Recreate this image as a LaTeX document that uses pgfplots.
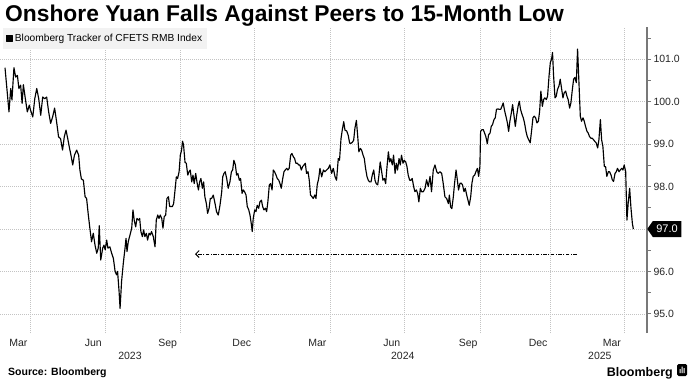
\documentclass[border=0pt]{standalone}
\usepackage{fontspec}
\setmainfont{Liberation Sans}
\usepackage{pgfplots}
\usepackage{pgfplotstable}
\pgfplotsset{compat=1.18}
\usetikzlibrary{shapes.symbols,arrows.meta}
\definecolor{gridc}{RGB}{195,195,195}
\definecolor{axisc}{RGB}{120,120,120}
\definecolor{legbg}{RGB}{242,242,242}

\pgfplotstableread{
m v
-0.04 100.80
0.03 100.35
0.12 99.76
0.19 100.31
0.24 100.04
0.32 100.80
0.39 100.58
0.46 100.62
0.52 100.31
0.59 100.39
0.65 99.96
0.70 100.40
0.78 100.07
0.86 99.76
0.94 99.92
0.99 99.80
1.08 99.64
1.16 100.07
1.24 100.31
1.32 100.07
1.40 99.68
1.48 100.11
1.56 100.07
1.64 100.11
1.72 99.76
1.80 99.49
1.88 99.64
1.96 99.85
2.04 99.53
2.12 99.17
2.20 99.13
2.28 98.86
2.35 99.17
2.42 99.33
2.49 99.13
2.55 98.94
2.62 98.74
2.69 98.51
2.76 98.74
2.85 98.86
2.93 98.74
2.98 98.39
3.04 98.18
3.12 98.15
3.19 97.76
3.25 97.72
3.32 97.33
3.39 96.98
3.45 96.70
3.52 96.90
3.59 96.62
3.66 96.43
3.72 96.55
3.76 97.08
3.82 96.27
3.90 96.55
3.95 96.62
4.00 96.51
4.06 96.74
4.11 96.55
4.19 96.58
4.26 96.43
4.33 96.31
4.40 96.00
4.46 95.92
4.50 96.00
4.56 95.53
4.60 95.13
4.66 95.76
4.73 96.19
4.80 96.55
4.84 96.78
4.88 96.47
4.93 96.70
5.00 96.86
5.07 97.02
5.12 97.45
5.17 97.21
5.23 97.05
5.28 97.25
5.34 97.21
5.39 97.25
5.44 96.94
5.50 96.82
5.55 96.98
5.60 96.82
5.66 96.90
5.71 96.74
5.77 96.90
5.82 96.86
5.87 96.94
5.94 96.82
6.01 96.58
6.06 97.21
6.12 97.33
6.17 97.25
6.22 97.33
6.28 97.25
6.33 97.02
6.38 97.29
6.44 97.33
6.49 97.72
6.55 97.76
6.60 97.53
6.65 97.53
6.71 97.53
6.76 97.60
6.81 97.88
6.87 98.23
6.92 98.19
6.98 98.35
7.03 98.74
7.08 98.86
7.12 99.07
7.16 98.98
7.22 98.57
7.27 98.55
7.33 98.27
7.38 98.35
7.43 98.39
7.49 98.11
7.54 98.27
7.59 98.07
7.65 98.31
7.70 98.11
7.76 97.92
7.81 98.11
7.86 98.19
7.92 97.96
7.97 98.11
8.02 97.76
8.08 97.60
8.13 97.37
8.19 97.49
8.24 97.72
8.29 97.72
8.36 97.80
8.43 97.60
8.49 97.41
8.56 97.33
8.63 97.56
8.70 97.88
8.74 98.23
8.79 98.31
8.84 98.35
8.90 98.19
8.96 97.96
9.03 98.11
9.09 98.35
9.14 98.39
9.19 98.62
9.25 98.51
9.30 98.27
9.35 98.31
9.41 98.15
9.46 98.19
9.52 97.84
9.57 97.92
9.62 97.88
9.68 97.80
9.73 97.53
9.79 97.45
9.84 97.33
9.89 97.13
9.93 96.94
9.97 97.25
10.03 97.45
10.08 97.41
10.13 97.56
10.19 97.49
10.24 97.64
10.30 97.68
10.35 97.53
10.40 97.45
10.46 97.49
10.51 97.41
10.56 97.64
10.62 98.04
10.67 98.07
10.73 97.92
10.78 98.39
10.83 98.35
10.89 98.27
10.94 98.19
11.00 98.15
11.05 98.07
11.10 97.96
11.16 98.19
11.21 98.35
11.26 98.39
11.32 98.43
11.37 98.39
11.42 98.43
11.48 98.74
11.53 98.78
11.59 98.70
11.64 98.66
11.69 98.55
11.75 98.55
11.80 98.51
11.85 98.51
11.91 98.39
11.96 98.47
12.02 98.51
12.07 98.55
12.12 98.31
12.18 98.35
12.23 98.15
12.28 97.80
12.34 97.76
12.39 97.72
12.45 97.80
12.50 97.72
12.55 98.04
12.61 98.19
12.66 98.43
12.73 98.23
12.80 98.39
12.86 98.35
12.93 98.39
13.00 98.43
13.06 98.51
13.13 98.31
13.20 98.43
13.27 98.23
13.33 98.15
13.40 98.66
13.45 98.62
13.51 99.13
13.56 99.33
13.62 99.53
13.67 99.33
13.74 99.31
13.80 99.21
13.86 99.02
13.91 99.02
13.96 99.04
14.02 99.09
14.07 99.37
14.13 99.56
14.18 99.21
14.23 98.82
14.29 98.90
14.34 98.86
14.40 98.74
14.45 98.66
14.50 98.43
14.56 98.23
14.61 98.15
14.66 98.11
14.72 98.11
14.77 98.27
14.83 98.39
14.88 98.15
14.93 98.07
14.99 98.04
15.04 98.27
15.09 98.58
15.15 98.35
15.20 98.15
15.26 98.19
15.31 98.07
15.36 98.43
15.42 98.82
15.47 98.58
15.52 98.66
15.58 98.51
15.63 98.74
15.69 98.31
15.74 98.55
15.79 98.39
15.85 98.66
15.90 98.51
15.95 98.74
16.01 98.55
16.06 98.62
16.12 98.58
16.17 98.47
16.22 98.27
16.28 98.15
16.33 98.15
16.38 98.19
16.44 98.00
16.49 97.88
16.55 97.92
16.60 97.84
16.65 97.64
16.71 97.96
16.76 97.88
16.83 97.88
16.90 97.96
16.96 98.16
17.03 98.00
17.10 98.24
17.16 97.88
17.23 98.39
17.30 98.51
17.37 98.35
17.43 98.31
17.50 98.35
17.57 98.31
17.63 98.08
17.70 97.76
17.77 97.72
17.84 97.60
17.88 97.80
17.93 97.52
17.98 97.48
18.04 97.76
18.09 98.08
18.15 98.39
18.20 98.16
18.25 97.92
18.31 98.08
18.36 98.08
18.41 98.04
18.47 97.88
18.52 97.96
18.58 97.80
18.63 97.68
18.68 97.56
18.74 97.76
18.79 98.08
18.84 98.24
18.90 98.27
18.95 98.35
19.01 98.43
19.06 98.24
19.11 98.47
19.14 99.30
19.19 99.34
19.25 99.34
19.30 99.26
19.35 99.18
19.41 99.01
19.46 99.22
19.52 99.26
19.57 99.42
19.62 99.46
19.68 99.58
19.73 99.62
19.78 99.82
19.84 99.83
19.89 99.82
19.95 99.82
20.00 99.89
20.05 99.97
20.11 99.78
20.16 99.66
20.22 99.50
20.27 99.30
20.32 99.54
20.38 99.74
20.43 99.93
20.48 99.70
20.54 99.42
20.59 99.66
20.65 99.89
20.70 100.01
20.75 99.82
20.81 99.70
20.86 99.62
20.91 99.50
20.97 99.30
21.02 99.18
21.08 99.10
21.14 99.03
21.20 99.34
21.25 99.62
21.30 99.66
21.36 99.62
21.41 99.50
21.47 99.54
21.52 99.78
21.57 100.25
21.63 99.89
21.68 100.05
21.73 100.09
21.79 100.05
21.84 100.13
21.90 100.61
21.95 100.92
22.00 101.00
22.04 101.16
22.08 100.64
22.14 100.09
22.19 100.13
22.24 100.29
22.30 100.37
22.35 100.53
22.41 100.29
22.46 100.09
22.51 100.21
22.57 100.25
22.62 100.13
22.67 100.05
22.73 99.85
22.78 99.97
22.84 100.29
22.89 100.53
22.94 100.57
23.00 100.45
23.05 101.24
23.10 100.53
23.16 99.66
23.21 99.54
23.27 99.62
23.32 99.54
23.37 99.42
23.43 99.30
23.48 99.26
23.53 99.18
23.59 99.14
23.64 99.14
23.70 99.10
23.75 99.06
23.80 99.03
23.86 98.91
23.91 99.10
23.97 99.58
24.02 99.10
24.07 98.95
24.13 98.47
24.18 98.47
24.23 98.24
24.29 98.35
24.34 98.35
24.40 98.27
24.45 98.16
24.50 98.12
24.56 98.31
24.61 98.35
24.66 98.43
24.72 98.35
24.77 98.39
24.83 98.43
24.88 98.39
24.93 98.51
24.99 98.35
25.04 97.21
25.09 97.60
25.15 97.96
25.20 97.52
25.26 97.13
25.30 97.00
}\cfets

\begin{document}
\begin{tikzpicture}
\useasboundingbox (0pt,0pt) rectangle (690pt,-388pt);
\node[anchor=base west, inner sep=0, font=\fontsize{22.8}{25}\selectfont\bfseries] at (5pt,-21pt) {Onshore Yuan Falls Against Peers to 15-Month Low};
\begin{axis}[
  at={(0pt,-333pt)}, anchor=south west,
  scale only axis, width=647pt, height=306pt,
  xmin=-0.242, xmax=25.85, ymin=94.55, ymax=101.76,
  clip=false,
  axis x line*=bottom, axis y line*=right,
  x axis line style={draw=none},
  y axis line style={draw=axisc, line width=1.3pt},
  xtick={0.5,3.52,6.52,9.51,12.56,15.56,18.64,21.46,24.43},
  xticklabels={Mar,Jun,Sep,Dec,Mar,Jun,Sep,Dec,Mar},
  minor xtick={1,4.02,7.02,10.01,13.06,16.06,19.14,21.96,24.93},
  xtick style={draw=none},
  xminorgrids=true, xmajorgrids=false,
  ytick={95,96,97,98,99,100,101},
  yticklabels={95.0,96.0,{},98.0,99.0,100.0,101.0},
  minor ytick={94.5,95.5,96.5,97.5,98.5,99.5,100.5,101.5},
  ymajorgrids=true,
  tick align=outside,
  major tick length=4pt, minor tick length=3.5pt,
  ytick style={draw=axisc, line width=0.9pt},
  major grid style={draw=gridc, line width=0.6pt, dash pattern=on 1pt off 1pt},
  minor grid style={draw=gridc, line width=0.6pt, dash pattern=on 1pt off 1pt},
  xticklabel style={font=\fontsize{10.5}{12}\selectfont, text=black!85, yshift=1pt},
  yticklabel style={font=\fontsize{10.5}{12}\selectfont, text=black!85, xshift=-1pt},
  /pgf/number format/assume math mode=true,
  legend style={at={(axis description cs:0.004,0.998)}, anchor=north west,
    fill=legbg, draw=none, font=\fontsize{10.2}{12}\selectfont,
    inner xsep=3pt, inner ysep=4pt},
  legend image code/.code={\fill[black] (0pt,-3pt) rectangle (6pt,3pt);},
  legend cell align=left,
]
\addplot[black, line width=1.15pt, line join=round] table[x=m, y=v] {\cfets};
\addlegendentry{Bloomberg Tracker of CFETS RMB Index}
\addplot[black, line width=1pt, forget plot,
  dash pattern=on 3.5pt off 1.5pt on 1pt off 1.5pt,
  -{Straight Barb[length=3.5pt,width=7pt]}]
  coordinates {(23.02,96.41) (7.62,96.41)};
\node[signal, signal to=west, signal pointer angle=110, fill=black, text=white,
  font=\fontsize{11}{12}\selectfont, inner xsep=3.5pt, inner ysep=2.5pt,
  minimum height=16pt, anchor=west] at (axis cs:25.85,97) {97.0};
\node[font=\fontsize{10.5}{12}\selectfont, text=black!85] at (axis cs:5.0,94.55) [yshift=-23pt] {2023};
\node[font=\fontsize{10.5}{12}\selectfont, text=black!85] at (axis cs:16.0,94.55) [yshift=-23pt] {2024};
\node[font=\fontsize{10.5}{12}\selectfont, text=black!85] at (axis cs:23.95,94.55) [yshift=-23pt] {2025};
\end{axis}
\node[anchor=base west, inner sep=0, font=\fontsize{10.5}{12}\selectfont\bfseries] at (8pt,-375pt) {Source: Bloomberg};
\node[anchor=base east, inner sep=0, font=\fontsize{12.5}{14}\selectfont\bfseries] at (673pt,-376pt) {Bloomberg};
\fill[black, rounded corners=1.5pt] (677pt,-364pt) rectangle (687pt,-376pt);
\fill[white] (679.5pt,-373pt) rectangle (680.5pt,-369pt) (681.5pt,-373pt) rectangle (682.5pt,-366.5pt) (683.5pt,-373pt) rectangle (684.5pt,-368pt);
\end{tikzpicture}
\end{document}
